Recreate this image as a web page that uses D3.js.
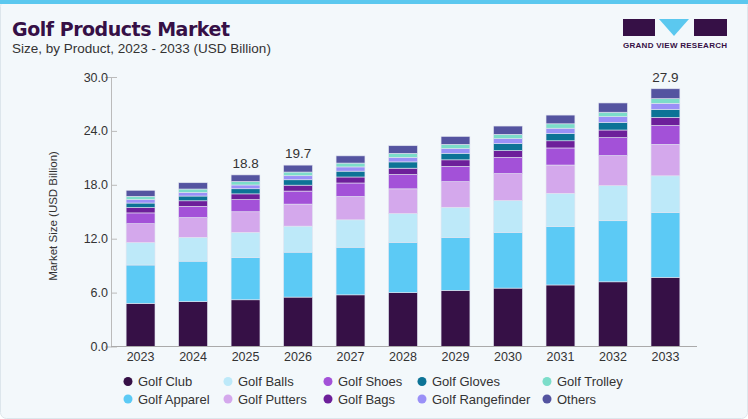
<!DOCTYPE html>
<html>
<head>
<meta charset="utf-8">
<script src="https://cdn.jsdelivr.net/npm/d3@7"></script>
<style>
  body { margin: 0; background: #fff; }
  text { font-family: "Liberation Sans", Arial, sans-serif; }
</style>
</head>
<body>
<svg id="chart" width="748" height="419"></svg>
<script>
const years = ["2023", "2024", "2025", "2026", "2027", "2028", "2029", "2030", "2031", "2032", "2033"];
const series = ["Golf Club", "Golf Apparel", "Golf Balls", "Golf Putters", "Golf Shoes", "Golf Bags", "Golf Gloves", "Golf Rangefinder", "Golf Trolley", "Others"];
const golfClub = [4.8, 5.0, 5.2, 5.5, 5.75, 6.0, 6.25, 6.5, 6.85, 7.2, 7.7];
const golfApparel = [4.27, 4.5, 4.7, 5.0, 5.3, 5.6, 5.9, 6.2, 6.5, 6.8, 7.2];
const golfBalls = [2.5, 2.65, 2.8, 2.9, 3.05, 3.2, 3.35, 3.55, 3.7, 3.9, 4.1];
const golfPutters = [2.1, 2.2, 2.3, 2.45, 2.6, 2.75, 2.85, 3.0, 3.15, 3.35, 3.5];
const golfShoes = [1.2, 1.25, 1.35, 1.45, 1.5, 1.6, 1.7, 1.8, 1.9, 2.0, 2.1];
const golfBags = [0.6, 0.62, 0.64, 0.66, 0.67, 0.7, 0.73, 0.76, 0.8, 0.85, 0.9];
const golfGloves = [0.5, 0.53, 0.57, 0.6, 0.65, 0.7, 0.73, 0.77, 0.8, 0.85, 0.9];
const golfRangefinder = [0.38, 0.4, 0.42, 0.45, 0.47, 0.5, 0.53, 0.56, 0.6, 0.63, 0.67];
const golfTrolley = [0.37, 0.38, 0.39, 0.41, 0.43, 0.45, 0.46, 0.48, 0.49, 0.5, 0.52];
const others = [0.67, 0.7, 0.73, 0.77, 0.8, 0.85, 0.88, 0.92, 0.97, 1.03, 1.1];
const totalLabels = { "2025": "18.8", "2026": "19.7", "2033": "27.9" };
const yTicks = [0, 6, 12, 18, 24, 30];

const values = [golfClub, golfApparel, golfBalls, golfPutters, golfShoes, golfBags, golfGloves, golfRangefinder, golfTrolley, others];
const colors = ["#361046", "#5ccaf5", "#bde9f9", "#d4a8ec", "#a351d8", "#6d1f9a", "#0c7396", "#9a90f7", "#7cddca", "#5454a0"];

const rows = years.map((y, i) => {
  const r = { year: y };
  series.forEach((s, j) => { r[s] = values[j][i]; });
  return r;
});

const svg = d3.select("#chart");

// card background
svg.append("rect").attr("x", 0.5).attr("y", 0.5).attr("width", 747).attr("height", 418)
  .attr("rx", 6).attr("fill", "#f3f8fb").attr("stroke", "#dde6ec");
svg.append("rect").attr("x", 0).attr("y", 0).attr("width", 748).attr("height", 4)
  .attr("fill", "#5bc8ef");

svg.append("text").attr("x", 12).attr("y", 36)
  .style("font-family", "'DejaVu Sans', sans-serif").style("font-weight", 900)
  .style("font-size", "19px").attr("fill", "#361046").attr("textLength", 218)
  .text("Golf Products Market");
svg.append("text").attr("x", 12).attr("y", 53).style("font-size", "13.5px")
  .attr("fill", "#333").text("Size, by Product, 2023 - 2033 (USD Billion)");

// logo
const logo = svg.append("g").attr("transform", "translate(623,19)");
logo.append("rect").attr("width", 32).attr("height", 17).attr("fill", "#361046");
logo.append("path").attr("d", "M36,0 L66,0 L51,17 Z").attr("fill", "#5bc8ef");
logo.append("rect").attr("x", 71).attr("width", 33).attr("height", 17).attr("fill", "#361046");
logo.append("text").attr("x", 0).attr("y", 29)
  .style("font-size", "8px").style("font-weight", "bold").attr("fill", "#361046")
  .attr("textLength", 104).text("GRAND VIEW RESEARCH");

const x = d3.scaleBand().domain(years).range([113, 693]).paddingInner(0.45).paddingOuter(0.25);
const y = d3.scaleLinear().domain([0, 30]).range([346.5, 77]);

const stack = d3.stack().keys(series)(rows);

svg.append("g").selectAll("g").data(stack).join("g")
  .attr("fill", (d, i) => colors[i])
  .selectAll("rect").data(d => d).join("rect")
  .attr("x", d => x(d.data.year))
  .attr("width", x.bandwidth())
  .attr("y", d => y(d[1]))
  .attr("height", d => y(d[0]) - y(d[1]))
  .attr("stroke", "#e2e4f0").attr("stroke-width", 0.6);

// axes
const yAxis = svg.append("g").attr("transform", "translate(111,0)")
  .call(d3.axisLeft(y).tickValues(yTicks).tickFormat(d3.format(".1f")).tickSize(6));
yAxis.select(".domain").attr("stroke", "#bbb");
yAxis.selectAll(".tick line").attr("stroke", "#bbb").attr("transform", "translate(6,0)");
yAxis.selectAll("text").style("font-size", "12.5px").attr("fill", "#333").attr("x", -3);

const xAxis = svg.append("g").attr("transform", "translate(0,346.5)")
  .call(d3.axisBottom(x).tickSize(0).tickPadding(6));
xAxis.select(".domain").attr("stroke", "#aaa").attr("d", "M111,0H697");
xAxis.selectAll("text").style("font-size", "12.5px").attr("fill", "#333");

svg.append("text").attr("transform", "translate(57,216) rotate(-90)")
  .attr("text-anchor", "middle").style("font-size", "11.5px").attr("fill", "#333")
  .text("Market Size (USD Billion)");

// total labels
const totals = rows.map(r => d3.sum(series, s => r[s]));
svg.append("g").selectAll("text").data(years.filter(yr => totalLabels[yr])).join("text")
  .attr("x", d => x(d) + x.bandwidth() / 2)
  .attr("y", d => y(totals[years.indexOf(d)]) - 7)
  .attr("text-anchor", "middle").style("font-size", "13.5px").attr("fill", "#333")
  .text(d => totalLabels[d]);

// legend
const colX = [128, 228, 328, 422, 547];
const legend = svg.append("g").selectAll("g").data(series).join("g")
  .attr("transform", (d, i) => {
    const order = [0, 2, 4, 6, 8, 1, 3, 5, 7, 9];
    const pos = order.indexOf(i);
    return `translate(${colX[pos % 5]},${pos < 5 ? 381.5 : 399})`;
  });
legend.append("circle").attr("r", 4.5).attr("fill", (d, i) => colors[i]);
legend.append("text").attr("x", 10).attr("y", 4.5).style("font-size", "13px")
  .attr("fill", "#333").text(d => d);
</script>
</body>
</html>
